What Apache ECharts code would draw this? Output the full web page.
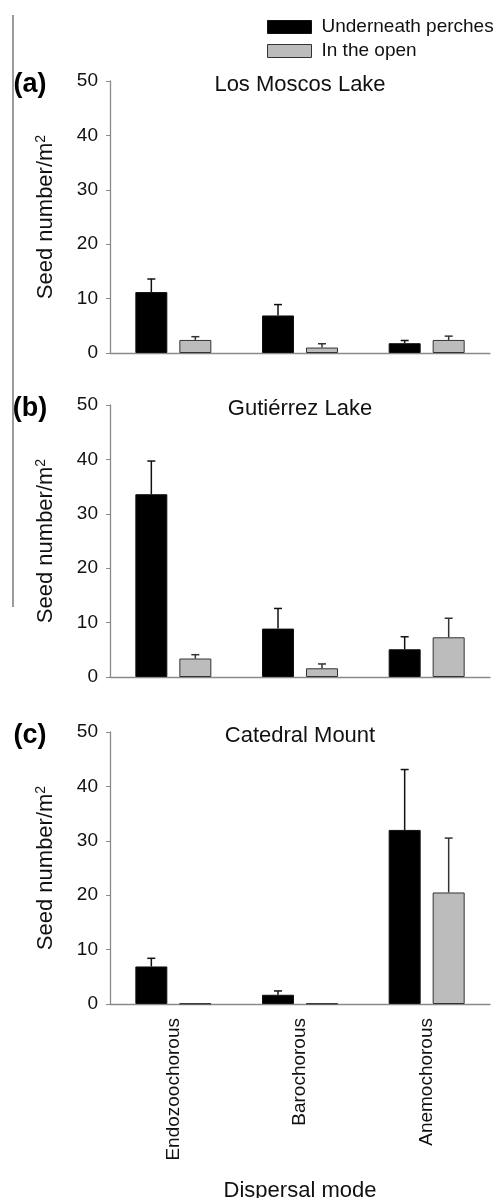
<!DOCTYPE html>
<html>
<head>
<meta charset="utf-8">
<script src="https://cdn.jsdelivr.net/npm/echarts@6/dist/echarts.min.js"></script>
<style>
html,body{margin:0;padding:0;background:#fff;}
#c{width:499px;height:1198px;}
</style>
</head>
<body>
<div id="c"></div>
<script>
// ---- data ----
const categories = ['Endozoochorous', 'Barochorous', 'Anemochorous'];
const seriesNames = ['Underneath perches', 'In the open'];
const panelTitles = ['Los Moscos Lake', 'Gutiérrez Lake', 'Catedral Mount'];
const panelLabels = ['(a)', '(b)', '(c)'];
const yTicks = [0, 10, 20, 30, 40, 50];

// (a) Los Moscos Lake
const perchesA = [11.2, 6.9, 1.8];
const perchesErrA = [2.4, 2.0, 0.5];
const openA = [2.4, 1.0, 2.4];
const openErrA = [0.6, 0.7, 0.7];
// (b) Gutiérrez Lake
const perchesB = [33.6, 8.9, 5.1];
const perchesErrB = [6.1, 3.7, 2.3];
const openB = [3.4, 1.6, 7.3];
const openErrB = [0.7, 0.8, 3.5];
// (c) Catedral Mount
const perchesC = [6.9, 1.7, 32.0];
const perchesErrC = [1.5, 0.7, 11.1];
const openC = [0.1, 0.1, 20.5];
const openErrC = [0, 0, 10.0];

const panels = [
  {perches: perchesA, perchesErr: perchesErrA, open: openA, openErr: openErrA},
  {perches: perchesB, perchesErr: perchesErrB, open: openB, openErr: openErrB},
  {perches: perchesC, perchesErr: perchesErrC, open: openC, openErr: openErrC}
];

// ---- layout ----
const gridTops = [81, 405, 732];
const gridH = 272;
const GAP_CAT = 0.4, GAP_BAR = 0.375;
const axisColor = '#8a8a8a';
const textColor = '#111';
const FONT = 'Liberation Sans, Arial, sans-serif';

function errRender(sign, color) {
  return function (params, api) {
    const cat = api.value(0), val = api.value(1), err = api.value(2);
    if (!(err > 0)) return {type: 'group', children: []};
    const base = api.coord([cat, val]);
    const top = api.coord([cat, val + err]);
    const band = api.size([1, 0])[0];
    const bw = band * (1 - GAP_CAT) / (2 + GAP_BAR);
    const x = base[0] + sign * bw * (1 + GAP_BAR) / 2;
    const cap = 4;
    const st = {stroke: color, lineWidth: 1.5};
    return {
      type: 'group',
      children: [
        {type: 'line', shape: {x1: x, y1: base[1], x2: x, y2: top[1]}, style: st},
        {type: 'line', shape: {x1: x - cap, y1: top[1], x2: x + cap, y2: top[1]}, style: st}
      ]
    };
  };
}

const grids = [], xAxes = [], yAxes = [], series = [], graphics = [];
panels.forEach((p, i) => {
  grids.push({left: 110, right: 9, top: gridTops[i], height: gridH, containLabel: false, outerBoundsMode: 'none'});
  xAxes.push({
    type: 'category', gridIndex: i, data: categories,
    axisLine: {lineStyle: {color: axisColor, width: 1.3}},
    axisTick: {alignWithLabel: true, length: 5, lineStyle: {color: axisColor}},
    axisLabel: {show: i === 2, rotate: 90, fontSize: 19, color: textColor, margin: 14, fontFamily: FONT},
    name: i === 2 ? 'Dispersal mode' : '',
    nameLocation: 'middle', nameGap: 176,
    nameTextStyle: {fontSize: 22, color: textColor, fontFamily: FONT}
  });
  yAxes.push({
    type: 'value', gridIndex: i, min: yTicks[0], max: yTicks[yTicks.length - 1], interval: 10,
    axisLine: {show: true, lineStyle: {color: axisColor, width: 1.3}},
    axisTick: {show: true, length: 4, lineStyle: {color: axisColor}},
    splitLine: {show: false},
    axisLabel: {fontSize: 19, color: textColor, margin: 12, fontFamily: FONT},
    name: '{a|Seed number/m}{s|2}',
    nameLocation: 'middle', nameGap: 52,
    nameTextStyle: {
      rich: {
        a: {fontSize: 22, color: textColor, fontFamily: FONT, lineHeight: 24},
        s: {fontSize: 14, color: textColor, fontFamily: FONT, lineHeight: 12, verticalAlign: 'top'}
      }
    }
  });
  series.push({
    name: seriesNames[0], type: 'bar', xAxisIndex: i, yAxisIndex: i,
    data: p.perches, barCategoryGap: '40%', barGap: '37.5%',
    itemStyle: {color: '#000', borderColor: '#111', borderWidth: 1}
  });
  series.push({
    name: seriesNames[1], type: 'bar', xAxisIndex: i, yAxisIndex: i,
    data: p.open, barCategoryGap: '40%', barGap: '37.5%',
    itemStyle: {color: '#bcbcbc', borderColor: '#333', borderWidth: 1}
  });
  series.push({
    name: 'errP' + i, type: 'custom', xAxisIndex: i, yAxisIndex: i, z: 5,
    renderItem: errRender(-1, '#111'),
    data: p.perches.map((v, k) => [k, v, p.perchesErr[k]])
  });
  series.push({
    name: 'errO' + i, type: 'custom', xAxisIndex: i, yAxisIndex: i, z: 5,
    renderItem: errRender(1, '#333'),
    data: p.open.map((v, k) => [k, v, p.openErr[k]])
  });
  graphics.push({
    type: 'text', x: 300, y: gridTops[i] + 4,
    style: {text: panelTitles[i], fontSize: 22, fill: textColor, fontFamily: FONT, textAlign: 'center', textVerticalAlign: 'middle'}
  });
  graphics.push({
    type: 'text', x: 30, y: gridTops[i] + 4,
    style: {text: panelLabels[i], fontSize: 27, fontWeight: 'bold', fill: '#000', fontFamily: FONT, textAlign: 'center', textVerticalAlign: 'middle'}
  });
});
graphics.push({
  type: 'line', shape: {x1: 13, y1: 15, x2: 13, y2: 607},
  style: {stroke: '#7a7a7a', lineWidth: 1.5}
});

const chart = echarts.init(document.getElementById('c'), null, {renderer: 'canvas'});
chart.setOption({
  animation: false,
  backgroundColor: '#fff',
  textStyle: {fontFamily: FONT},
  legend: {
    data: [
      {name: seriesNames[0], itemStyle: {color: '#000', borderColor: '#111', borderWidth: 1}},
      {name: seriesNames[1], itemStyle: {color: '#bcbcbc', borderColor: '#333', borderWidth: 1}}
    ],
    orient: 'vertical', left: 262, top: 10,
    itemWidth: 44, itemHeight: 13, itemGap: 0,
    icon: 'rect',
    selectedMode: false,
    textStyle: {fontSize: 19, color: textColor, lineHeight: 24, fontFamily: FONT, padding: [0, 0, 0, 5]}
  },
  grid: grids,
  xAxis: xAxes,
  yAxis: yAxes,
  series: series,
  graphic: graphics
});
</script>
</body>
</html>
